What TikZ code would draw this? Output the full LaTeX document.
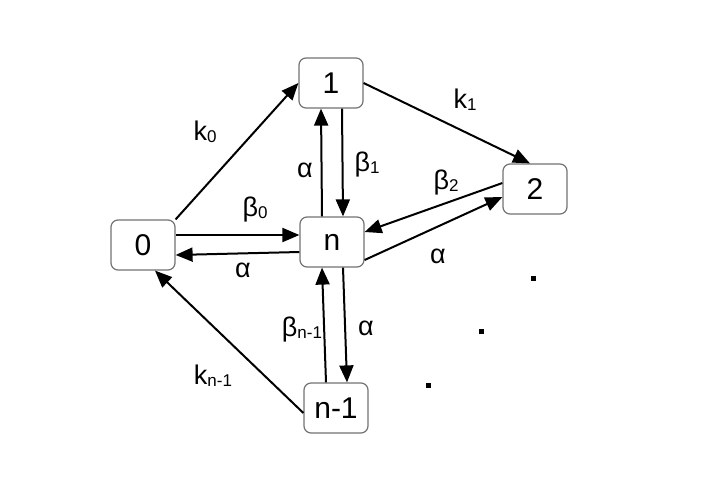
\documentclass[tikz,border=0pt]{standalone}
\usepackage{fontspec}
\setmainfont{Liberation Sans}
\usetikzlibrary{arrows.meta}
\newcommand\lsub[1]{\raisebox{-2pt}{\fontsize{17}{17}\selectfont #1}}
\tikzset{
    x=1pt, y=-1pt,
    state/.style={draw=black!55, line width=1.2pt, rounded corners=7pt, fill=white,
        minimum width=64pt, minimum height=50pt, inner sep=0pt,
        font=\fontsize{30}{30}\selectfont},
    trans/.style={-{Triangle[length=17pt,width=14pt]}, line width=2pt},
    lbl/.style={font=\fontsize{27}{27}\selectfont, inner sep=0pt},
}
\begin{document}
\begin{tikzpicture}
    \useasboundingbox (0,0) rectangle (706,485);

    \node[state] (q1) at (331,83) {1};
    \node[state] (q2) at (535,189) {2};
    \node[state] (q0) at (143,245) {0};
    \node[state] (qn) at (332,242) {n};
    \node[state] (qm) at (336,408) {n-1};

    \draw[trans] (q0.north east) -- (q1.west);
    \draw[trans] (q1.east) -- ([xshift=-5pt]q2.north);
    \draw[trans] ([xshift=-10pt]qn.north) -- ([xshift=-10pt]q1.south);
    \draw[trans] ([xshift=11pt]q1.south) -- ([xshift=11pt]qn.north);
    \draw[trans] ([yshift=6pt]q2.west) -- ([yshift=10pt]qn.east);
    \draw[trans] ([yshift=-18pt]qn.east) -- ([yshift=-8pt]q2.west);
    \draw[trans] ([yshift=10pt]q0.east) -- ([yshift=7pt]qn.west);
    \draw[trans] ([yshift=-10pt]qn.west) -- ([yshift=-10pt]q0.east);
    \draw[trans] ([xshift=-10pt]qm.north) -- ([xshift=-10pt]qn.south);
    \draw[trans] ([xshift=11pt]qn.south) -- ([xshift=11pt]qm.north);
    \draw[trans] ([yshift=-5pt]qm.west) -- ([xshift=12pt]q0.south);

    \node[lbl] at (205,132) {k\lsub{0}};
    \node[lbl] at (465,100) {k\lsub{1}};
    \node[lbl] at (305,170) {α};
    \node[lbl] at (367,165) {β\lsub{1}};
    \node[lbl] at (446,183) {β\lsub{2}};
    \node[lbl] at (438,256) {α};
    \node[lbl] at (255,210) {β\lsub{0}};
    \node[lbl] at (243,270) {α};
    \node[lbl] at (302,330) {β\lsub{n-1}};
    \node[lbl] at (366,328) {α};
    \node[lbl] at (213,376) {k\lsub{n-1}};

    \foreach \p in {(533,278),(481,331),(428,385)}
        \fill \p ++(-2.5,-2.5) rectangle ++(5,5);
\end{tikzpicture}
\end{document}
